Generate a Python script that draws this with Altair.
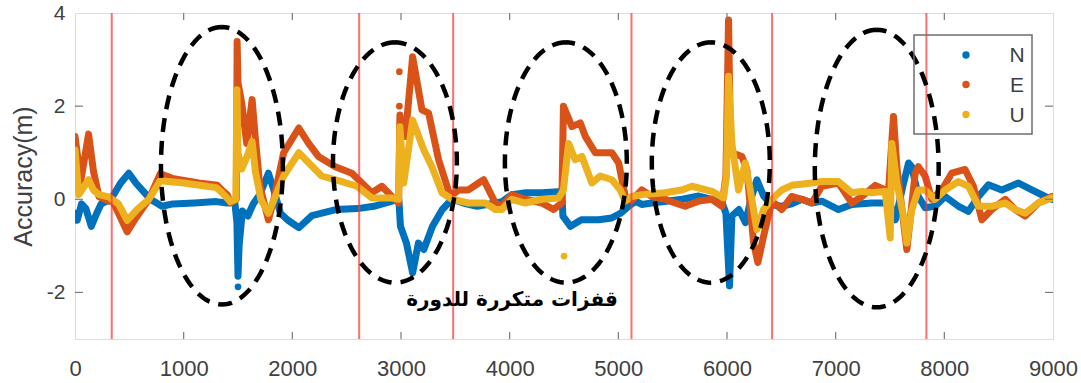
import math
import altair as alt
import pandas as pd

# ---------------- data ----------------
series_names = ["N", "E", "U"]
series_colors = ["#0072BD", "#D95319", "#EDB120"]

n_t = [0, 20, 60, 100, 150, 200, 240, 330, 420, 495, 560, 695, 800, 900, 1100, 1300, 1400, 1470,
       1490, 1500, 1510, 1540, 1590, 1640, 1700, 1780, 1830, 1890, 1960, 2060, 2180, 2400, 2600,
       2750, 2900, 2980, 2995, 3050, 3107, 3160, 3210, 3290, 3380, 3470, 3600, 3700, 3868, 3930,
       4020, 4150, 4300, 4480, 4490, 4560, 4660, 4820, 4940, 5020, 5095, 5160, 5215, 5310, 5590,
       5740, 5860, 5950, 5990, 6023, 6045, 6110, 6170, 6220, 6275, 6337, 6413, 6504, 6596, 6688,
       6780, 6873, 7026, 7149, 7333, 7456, 7500, 7550, 7620, 7671, 7700, 7761, 7823, 7915, 8007,
       8130, 8222, 8314, 8406, 8529, 8682, 8805, 8928, 8990]
n_v = [-0.3, -0.45, -0.1, -0.2, -0.58, -0.3, -0.1, 0.0, 0.35, 0.56, 0.35, 0.0, -0.15, -0.1, -0.08,
       -0.05, -0.08, -0.05, -0.5, -1.65, -1.0, -0.25, -0.36, -0.1, 0.1, 0.56, 0.2, -0.3, -0.45,
       -0.61, -0.35, -0.22, -0.2, -0.15, -0.05, 0.0, -0.58, -0.94, -1.58, -0.94, -1.08, -0.58,
       -0.22, 0.0, -0.1, -0.15, -0.08, -0.05, 0.1, 0.14, 0.14, 0.17, -0.36, -0.58, -0.44, -0.44,
       -0.4, -0.3, -0.15, -0.04, -0.11, -0.08, 0.0, 0.07, 0.0, -0.04, -0.3, -1.86, -0.36, -0.22,
       -0.5, 0.0, 0.42, 0.07, -0.12, -0.15, -0.1, 0.0, -0.08, -0.04, -0.22, -0.11, -0.08, -0.08,
       -0.1, -0.44, 0.3, 0.78, 0.7, 0.06, -0.18, -0.15, 0.06, -0.15, -0.26, 0.06, 0.31, 0.2, 0.35,
       0.2, 0.06, 0.0]

e_t = [0, 25, 50, 125, 170, 220, 310, 338, 400, 480, 560, 680, 785, 895, 1140, 1310, 1350, 1400,
       1430, 1485, 1492, 1500, 1535, 1580, 1630, 1660, 1700, 1780, 1830, 1920, 2060, 2150, 2240,
       2395, 2548, 2640, 2732, 2824, 2916, 2978, 2990, 3000, 3040, 3107, 3193, 3254, 3346, 3454,
       3530, 3620, 3715, 3761, 3868, 3928, 4020, 4143, 4297, 4404, 4480, 4495, 4573, 4650, 4696,
       4788, 4941, 5003, 5064, 5124, 5216, 5308, 5431, 5523, 5615, 5738, 5861, 5953, 5990, 6014,
       6030, 6045, 6137, 6183, 6245, 6284, 6337, 6413, 6504, 6596, 6688, 6780, 6873, 7026, 7149,
       7241, 7364, 7456, 7487, 7532, 7563, 7655, 7732, 7761, 7823, 7884, 7976, 8068, 8191, 8268,
       8345, 8437, 8560, 8652, 8744, 8866, 8990]
e_v = [1.35, 0.9, 0.35, 1.4, 0.6, 0.06, -0.04, 0.0, -0.3, -0.7, -0.4, 0.0, 0.55, 0.45, 0.35, 0.3,
       0.2, 0.1, -0.08, 0.0, 3.39, 2.5, 2.06, 1.2, 2.14, 1.3, 0.3, -0.44, 0.0, 1.0, 1.53, 1.2,
       0.92, 0.7, 0.56, 0.35, 0.14, 0.28, 0.06, -0.08, 1.81, 1.6, 1.35, 3.06, 1.92, 1.85, 0.85,
       0.06, 0.2, 0.2, 0.35, 0.42, -0.08, -0.15, 0.1, 0.0, -0.08, -0.22, -0.08, 2.0, 1.56, 1.64,
       1.35, 1.0, 1.0, 0.78, 0.06, -0.02, 0.2, 0.06, 0.0, -0.08, -0.15, -0.04, 0.0, -0.15, 0.5,
       3.85, 1.5, 1.0, 0.92, 0.64, -0.94, -1.36, -0.79, -0.04, -0.22, 0.06, 0.0, -0.08, 0.28,
       0.35, -0.08, 0.06, 0.3, 0.2, 0.2, 1.78, 0.7, -1.08, 0.56, 0.7, 0.5, 0.0, 0.2, 0.56, 0.64,
       0.28, -0.44, -0.22, 0.0, -0.22, -0.36, -0.08, 0.06]

u_t = [0, 20, 35, 125, 170, 220, 310, 400, 480, 580, 680, 785, 1000, 1300, 1350, 1430, 1480, 1490,
       1500, 1535, 1580, 1630, 1660, 1710, 1780, 1920, 2060, 2270, 2425, 2595, 2732, 2916, 2978,
       2990, 3025, 3107, 3210, 3285, 3377, 3469, 3620, 3775, 3868, 3928, 4020, 4143, 4297, 4450,
       4495, 4542, 4603, 4665, 4757, 4834, 4941, 5018, 5064, 5124, 5216, 5431, 5585, 5677, 5861,
       5968, 5995, 6014, 6045, 6106, 6168, 6214, 6275, 6337, 6413, 6504, 6596, 6780, 6873, 7026,
       7149, 7241, 7333, 7456, 7502, 7517, 7563, 7624, 7655, 7701, 7761, 7823, 7915, 8007, 8130,
       8222, 8314, 8437, 8560, 8652, 8744, 8866, 8990]
u_v = [1.06, 0.5, 0.1, 0.42, 0.2, 0.1, 0.05, -0.1, -0.45, -0.2, 0.0, 0.4, 0.35, 0.25, 0.15, -0.05,
       0.0, 2.35, 1.0, 0.65, 0.9, 1.24, 0.6, 0.0, -0.3, 0.5, 1.0, 0.5, 0.4, 0.28, 0.03, 0.03, 0.0,
       1.56, 0.35, 1.7, 1.06, 0.7, 0.14, 0.0, -0.08, -0.08, -0.22, -0.22, 0.0, -0.08, 0.0, 0.03,
       0.2, 1.2, 0.85, 0.92, 0.35, 0.5, 0.42, 0.2, -0.04, 0.06, 0.1, 0.14, 0.2, 0.28, 0.17, 0.03,
       0.5, 2.64, 1.2, 0.2, 0.78, 0.2, -0.65, -0.22, 0.0, 0.2, 0.3, 0.35, 0.38, 0.38, 0.14, 0.17,
       0.14, 0.17, -0.83, 1.2, 0.35, -0.36, -0.94, -0.22, 0.2, 0.2, 0.0, 0.2, 0.38, 0.28, -0.15,
       -0.15, -0.08, -0.22, -0.3, -0.08, 0.03]

# isolated outlier dots
dot_t = [1500, 4500, 2985, 2985, 2985]
dot_v = [-1.88, -1.22, 2.74, 2.0, 1.56]
dot_s = ["N", "U", "E", "E", "U"]

# cycle-slip epochs (red vertical lines)
slip_t = [338, 2615, 3480, 5121, 6415, 7835]

# dashed ellipse annotations: centre and half-axes in data units
ell_cx = [1352, 2944, 4517, 5851, 7378]
ell_cy = [0.72, 0.79, 0.79, 0.79, 0.66]
ell_rx = [561, 570, 561, 543, 570]
ell_ry = [2.98, 2.58, 2.58, 2.58, 2.98]

annotation = ["قفزات متكررة للدورة"]

x_ticks = [0, 1000, 2000, 3000, 4000, 5000, 6000, 7000, 8000, 9000]
y_ticks = [-2, 0, 2, 4]

# ---------------- tables ----------------
series_data = {"N": (n_t, n_v), "E": (e_t, e_v), "U": (u_t, u_v)}
dots = pd.DataFrame({"t": dot_t, "v": dot_v, "s": dot_s})

ell_rows = []
for k in range(len(ell_cx)):
    for j in range(121):
        a = 2 * math.pi * j / 120 + math.pi / 2
        ell_rows.append({"k": k, "j": j,
                         "t": ell_cx[k] + ell_rx[k] * math.cos(a),
                         "v": ell_cy[k] + ell_ry[k] * math.sin(a)})
ell = pd.DataFrame(ell_rows)

W, H = 978, 326
FONT = "Liberation Sans"
GRAY = "#7a7a7a"
TXT = "#404040"

xs = alt.Scale(domain=[0, 9000], nice=False, zero=False)
ys = alt.Scale(domain=[-3, 4], nice=False, zero=False)
cs = alt.Scale(domain=series_names, range=series_colors)

X = alt.X("t:Q", scale=xs, axis=alt.Axis(values=x_ticks, title=None, labelFlush=False,
                                          labelExpr="'' + datum.value",
                                          labelFontSize=22, labelColor=TXT, labelFont=FONT,
                                          labelPadding=19, ticks=False, domain=False, grid=False))
Y = alt.Y("v:Q", scale=ys, axis=alt.Axis(values=y_ticks, title="Accuracy(m)", labelFlush=False,
                                          labelExpr="'' + datum.value",
                                          labelFontSize=21, labelColor=TXT, labelFont=FONT,
                                          labelPadding=10, ticks=False, domain=False, grid=False,
                                          titleFontSize=25, titleFont=FONT, titleColor=TXT,
                                          titleFontWeight="normal", titlePadding=10))

dots_layer = alt.Chart(dots).mark_circle(size=45, opacity=1).encode(
    x=X, y=Y, color=alt.Color("s:N", scale=cs, legend=None))

layers = [dots_layer]
for name, col in zip(series_names, series_colors):
    ts, vs = series_data[name]
    d = pd.DataFrame({"t": ts, "v": vs, "i": list(range(len(ts)))})
    layers.append(
        alt.Chart(d).mark_line(strokeWidth=7, strokeJoin="round", strokeCap="round",
                               clip=True, color=col)
        .encode(x=alt.X("t:Q", scale=xs), y=alt.Y("v:Q", scale=ys), order="i:Q")
    )

slips = alt.Chart(pd.DataFrame({"t": slip_t})).mark_rule(
    color="#ff3030", strokeWidth=2, opacity=0.7).encode(x=alt.X("t:Q", scale=xs))

ellipses = alt.Chart(ell).mark_line(color="black", strokeWidth=4.5, strokeDash=[14, 9],
                                    clip=True).encode(
    x=alt.X("t:Q", scale=xs), y=alt.Y("v:Q", scale=ys), detail="k:N", order="j:Q")

label = alt.Chart(pd.DataFrame({"txt": annotation})).mark_text(
    font="DejaVu Sans", fontSize=20, fontWeight="bold", color="black").encode(
    x=alt.value(437), y=alt.value(287), text="txt:N")

tick_df = pd.DataFrame({"t": x_ticks[1:-1]})
xt_bot = alt.Chart(tick_df).mark_rule(color=GRAY, strokeWidth=1.2).encode(
    x=alt.X("t:Q", scale=xs), y=alt.value(H), y2=alt.value(H - 7))
xt_top = alt.Chart(tick_df).mark_rule(color=GRAY, strokeWidth=1.2).encode(
    x=alt.X("t:Q", scale=xs), y=alt.value(0), y2=alt.value(7))
ytick_df = pd.DataFrame({"v": y_ticks[:-1]})
yt_l = alt.Chart(ytick_df).mark_rule(color=GRAY, strokeWidth=1.2).encode(
    y=alt.Y("v:Q", scale=ys), x=alt.value(0), x2=alt.value(8))
yt_r = alt.Chart(ytick_df).mark_rule(color=GRAY, strokeWidth=1.2).encode(
    y=alt.Y("v:Q", scale=ys), x=alt.value(W), x2=alt.value(W - 8))

# ---------------- legend box (drawn as marks) ----------------
one = pd.DataFrame({"a": [0]})
legend_layers = [
    alt.Chart(one).mark_rect(fillOpacity=0, stroke="#6e6e6e", strokeWidth=1.5).encode(
        x=alt.value(839), x2=alt.value(957), y=alt.value(22), y2=alt.value(121))
]
row_y = [42, 71.5, 101.5]
for name, col, ry in zip(series_names, series_colors, row_y):
    legend_layers.append(
        alt.Chart(one).mark_circle(size=55, opacity=1, color=col).encode(
            x=alt.value(891), y=alt.value(ry)))
    legend_layers.append(
        alt.Chart(one).mark_text(font=FONT, fontSize=21, color=TXT, align="center",
                                 baseline="middle").encode(
            x=alt.value(942), y=alt.value(ry + 1), text=alt.value(name)))

chart = alt.layer(*layers, slips, ellipses, label, xt_bot, xt_top, yt_l, yt_r,
                  *legend_layers).properties(
    width=W, height=H,
    padding={"left": 75, "top": 13, "right": 28, "bottom": 44},
    autosize=alt.AutoSizeParams(type="none"),
).configure_view(stroke=GRAY, strokeWidth=1.5).configure(background="white")

chart.save("out.html", embed_options={"renderer": "svg", "actions": False})
